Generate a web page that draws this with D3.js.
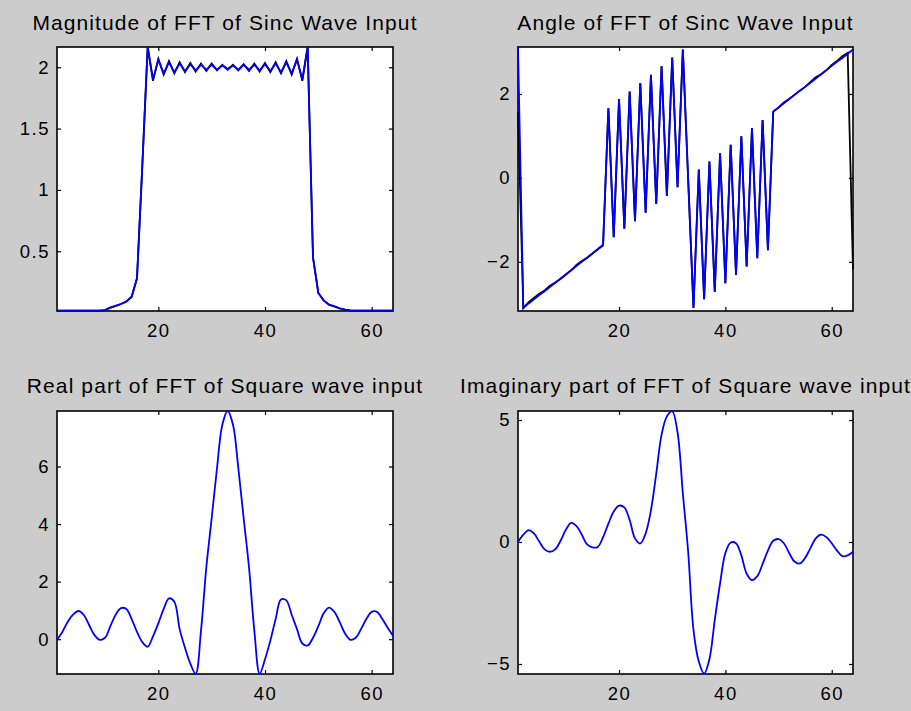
<!DOCTYPE html>
<html>
<head>
<meta charset="utf-8">
<script src="https://cdn.jsdelivr.net/npm/d3@7"></script>
<style>
html, body { margin: 0; padding: 0; background: #cccccc; }
svg { display: block; }
text { font-family: "Liberation Sans", Arial, Helvetica, sans-serif; fill: #000; }
</style>
</head>
<body>
<svg id="fig" width="911" height="711"></svg>
<script>
// ---------------- data ----------------
const sampleIndex = d3.range(1, 65);           // FFT bins 1..64
const xDomain = [1, 64];
const xTicks = [20, 40, 60];

const titles = [
  "Magnitude of FFT of Sinc Wave Input",
  "Angle of FFT of Sinc Wave Input",
  "Real part of FFT of Square wave input",
  "Imaginary part of FFT of Square wave input"
];

// Magnitude of FFT of sinc (blue on top of black)
const magBlue = [
  0.015, 0.015, 0.015, 0.015, 0.015, 0.015, 0.015, 0.015, 0.015, 0.02,
  0.04, 0.055, 0.07, 0.09, 0.13, 0.28, 1.2, 2.165, 1.9, 2.06,
  1.95, 2.04, 1.96, 2.03, 1.97, 2.025, 1.975, 2.02, 1.98, 2.02,
  1.98, 2.015, 1.985, 2.015, 1.98, 2.02, 1.98, 2.02, 1.975, 2.025,
  1.97, 2.03, 1.96, 2.04, 1.95, 2.06, 1.9, 2.165, 0.45, 0.16,
  0.1, 0.065, 0.05, 0.035, 0.025, 0.018, 0.015, 0.015, 0.015, 0.015,
  0.015, 0.015, 0.015, 0.015
];
const magBlack = [
  0.015, 0.015, 0.015, 0.015, 0.015, 0.015, 0.015, 0.015, 0.015, 0.02,
  0.04, 0.055, 0.07, 0.09, 0.13, 0.28, 1.2, 2.165, 1.89, 2.07,
  1.94, 2.05, 1.95, 2.04, 1.96, 2.035, 1.965, 2.03, 1.97, 2.03,
  1.975, 2.02, 1.98, 2.02, 1.975, 2.025, 1.97, 2.03, 1.965, 2.035,
  1.96, 2.04, 1.95, 2.05, 1.94, 2.07, 1.89, 2.165, 0.45, 0.16,
  0.1, 0.065, 0.05, 0.035, 0.025, 0.018, 0.015, 0.015, 0.015, 0.015,
  0.015, 0.015, 0.015, 0.015
];
const magYDomain = [0.013, 2.165];
const magYTicks = [0.5, 1, 1.5, 2];

// Angle of FFT of sinc
const angBlue = [
  3.13, -3.1, -2.99, -2.89, -2.79, -2.70, -2.60, -2.50, -2.40, -2.30,
  -2.20, -2.10, -2.00, -1.90, -1.80, -1.70, -1.61, 1.66, -1.41, 1.88,
  -1.21, 2.06, -1.03, 2.26, -0.83, 2.46, -0.62, 2.66, -0.43, 2.87,
  -0.22, 3.06, -0.03, -3.1, 0.20, -2.89, 0.39, -2.71, 0.59, -2.51,
  0.79, -2.31, 0.99, -2.11, 1.19, -1.91, 1.38, -1.72, 1.58, 1.68,
  1.78, 1.88, 1.98, 2.08, 2.17, 2.27, 2.37, 2.47, 2.57, 2.67,
  2.77, 2.86, 2.96, 3.06
];
const angBlack = [
  1.58, -3.1, -2.96, -2.86, -2.76, -2.68, -2.57, -2.49, -2.40, -2.30,
  -2.20, -2.07, -1.98, -1.90, -1.80, -1.70, -1.59, 1.66, -1.41, 1.88,
  -1.21, 2.06, -1.03, 2.26, -0.83, 2.46, -0.62, 2.66, -0.43, 2.87,
  -0.22, 3.06, -0.03, -3.1, 0.20, -2.89, 0.39, -2.71, 0.59, -2.51,
  0.79, -2.31, 0.99, -2.11, 1.19, -1.91, 1.38, -1.72, 1.58, 1.68,
  1.80, 1.88, 1.98, 2.08, 2.17, 2.29, 2.40, 2.47, 2.57, 2.69,
  2.79, 2.90, 2.98, -2.17
];
const angYDomain = [-3.17, 3.12];
const angYTicks = [-2, 0, 2];

// Real part of FFT of square wave
const realPart = [
  -0.02, 0.25, 0.6, 0.85, 0.98, 0.85, 0.5, 0.15, -0.02, 0.05,
  0.45, 0.85, 1.08, 1.05, 0.7, 0.25, -0.1, -0.26, 0.1, 0.55,
  1.05, 1.42, 1.3, 0.35, -0.3, -0.85, -1.2, 0.3, 2.5, 4.2,
  5.94, 7.45, 7.93, 7.45, 5.94, 4.2, 2.5, 0.3, -1.2, -0.7,
  -0.05, 0.7, 1.38, 1.35, 0.85, 0.35, -0.15, -0.22, 0.05, 0.45,
  0.9, 1.1, 0.95, 0.6, 0.2, -0.02, 0.05, 0.35, 0.7, 0.95,
  0.95, 0.7, 0.4, 0.12
];
const realYDomain = [-1.21, 7.93];
const realYTicks = [0, 2, 4, 6];

// Imaginary part of FFT of square wave
const imagPart = [
  0.0, 0.3, 0.49, 0.35, 0.02, -0.3, -0.4, -0.3, 0.05, 0.5,
  0.78, 0.65, 0.3, -0.1, -0.22, -0.2, 0.2, 0.75, 1.25, 1.49,
  1.42, 0.9, 0.15, -0.06, 0.35, 1.3, 2.8, 4.4, 5.15, 5.36,
  4.5, 2.0, -0.4, -3.6, -4.9, -5.4, -4.8, -3.2, -1.7, -0.45,
  -0.02, -0.05, -0.55, -1.3, -1.56, -1.4, -0.9, -0.35, 0.05, 0.12,
  -0.05, -0.45, -0.8, -0.88, -0.65, -0.25, 0.15, 0.3, 0.2, -0.05,
  -0.35, -0.58, -0.55, -0.4
];
const imagYDomain = [-5.41, 5.37];
const imagYTicks = [-5, 0, 5];

// ---------------- layout ----------------
const panels = [
  { title: titles[0], box: [57, 47, 393, 311], titleY: 30, yDomain: magYDomain, yTicks: magYTicks,
    curve: d3.curveLinear,
    series: [{ v: magBlack, c: "#000000" }, { v: magBlue, c: "#0000ff" }] },
  { title: titles[1], box: [518, 47, 853, 311], titleY: 30, yDomain: angYDomain, yTicks: angYTicks,
    curve: d3.curveLinear,
    series: [{ v: angBlack, c: "#000000" }, { v: angBlue, c: "#0000ff" }] },
  { title: titles[2], box: [57, 411, 393, 674], titleY: 393, yDomain: realYDomain, yTicks: realYTicks,
    curve: d3.curveCatmullRom.alpha(0.5),
    series: [{ v: realPart, c: "#0000ff" }] },
  { title: titles[3], box: [518, 411, 853, 674], titleY: 393, yDomain: imagYDomain, yTicks: imagYTicks,
    curve: d3.curveCatmullRom.alpha(0.5),
    series: [{ v: imagPart, c: "#0000ff" }] }
];

const svg = d3.select("#fig");
svg.append("rect").attr("width", 911).attr("height", 711).attr("fill", "#cccccc");

const fmt = d3.format("~g");

function styleAxis(g, withLabels) {
  g.attr("font-size", null).attr("font-family", null);
  g.select(".domain").remove();
  g.selectAll(".tick line").attr("stroke", "#000").attr("stroke-width", 1.2);
  g.selectAll(".tick text")
    .attr("fill", "#000")
    .style("font-size", "18.5px")
    .style("letter-spacing", "1.5px");
  if (!withLabels) g.selectAll(".tick text").remove();
}

panels.forEach(p => {
  const [x0, y0, x1, y1] = p.box;
  const g = svg.append("g");
  const x = d3.scaleLinear().domain(xDomain).range([x0, x1]);
  const y = d3.scaleLinear().domain(p.yDomain).range([y1, y0]);

  g.append("rect").attr("x", x0).attr("y", y0)
    .attr("width", x1 - x0).attr("height", y1 - y0).attr("fill", "#ffffff");

  g.append("g").attr("transform", `translate(0,${y1})`)
    .call(d3.axisBottom(x).tickValues(xTicks).tickSizeInner(-4).tickSizeOuter(0).tickPadding(12.5).tickFormat(fmt))
    .call(a => styleAxis(a, true));
  g.append("g").attr("transform", `translate(0,${y0})`)
    .call(d3.axisTop(x).tickValues(xTicks).tickSizeInner(-4).tickSizeOuter(0).tickFormat(""))
    .call(a => styleAxis(a, false));
  g.append("g").attr("transform", `translate(${x0},0)`)
    .call(d3.axisLeft(y).tickValues(p.yTicks).tickSizeInner(-4).tickSizeOuter(0).tickPadding(7).tickFormat(fmt))
    .call(a => styleAxis(a, true));
  g.append("g").attr("transform", `translate(${x1},0)`)
    .call(d3.axisRight(y).tickValues(p.yTicks).tickSizeInner(-4).tickSizeOuter(0).tickFormat(""))
    .call(a => styleAxis(a, false));

  g.append("rect").attr("x", x0).attr("y", y0)
    .attr("width", x1 - x0).attr("height", y1 - y0)
    .attr("fill", "none").attr("stroke", "#000").attr("stroke-width", 1.6);

  const line = d3.line().curve(p.curve).x((d, i) => x(sampleIndex[i])).y(d => y(d));
  p.series.forEach(s => {
    g.append("path").datum(s.v)
      .attr("d", line)
      .attr("fill", "none")
      .attr("stroke", s.c)
      .attr("stroke-width", 1.8)
      .attr("stroke-linejoin", "miter");
  });

  g.append("text")
    .attr("x", (x0 + x1) / 2)
    .attr("y", p.titleY)
    .attr("text-anchor", "middle")
    .style("font-size", "21px")
    .style("letter-spacing", "1.1px")
    .text(p.title);
});
</script>
</body>
</html>
